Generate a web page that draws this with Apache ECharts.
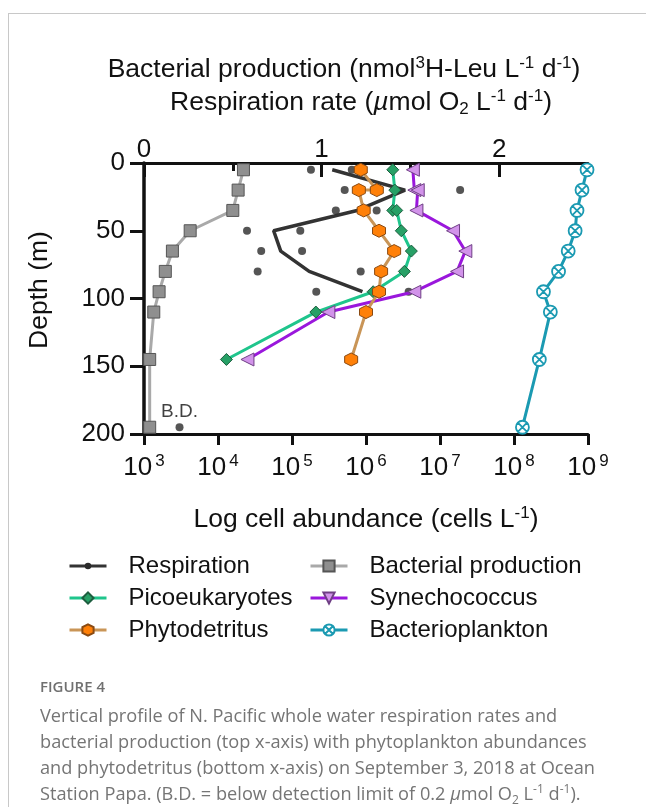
<!DOCTYPE html>
<html>
<head>
<meta charset="utf-8">
<script src="https://cdn.jsdelivr.net/npm/echarts@6/dist/echarts.min.js"></script>
<style>
  html, body { margin: 0; padding: 0; background: #fff; }
  #chart { width: 646px; height: 807px; }
</style>
</head>
<body>
<div id="chart"></div>
<script>
// depth (m) of each sample
const depths = [5, 20, 35, 50, 65, 80, 95, 110, 145, 195];

// top x-axis
const bacterialProduction = [0.56, 0.53, 0.50, 0.26, 0.16, 0.12, 0.085, 0.055, 0.032, 0.032];

const respDepths = [5, 20, 35, 50, 65, 80, 95];
const respMean = [1.06, 1.47, 1.20, 0.73, 0.77, 0.93, 1.23];
const respRepA = [0.94, 1.13, 1.08, 0.58, 0.66, 0.64, 0.97];
const respRepB = [1.17, 1.78, 1.31, 0.88, 0.89, 1.22, 1.49];
const respBelowDetection = [0.20, 195];

// bottom x-axis (cells L-1)
const picoDepths = [5, 20, 35, 35, 50, 65, 80, 95, 110, 145];
const picoeukaryotes = [2.3e6, 2.45e6, 2.3e6, 2.6e6, 3.0e6, 4.1e6, 3.3e6, 1.25e6, 2.1e5, 1.3e4];

const synDepths = [5, 20, 20, 35, 50, 65, 80, 95, 110, 145];
const synechococcus = [4.3e6, 4.5e6, 5.0e6, 4.8e6, 1.5e7, 2.2e7, 1.7e7, 4.5e6, 3.1e5, 2.5e4];

const phytoDepths = [5, 20, 20, 35, 50, 65, 80, 95, 110, 145];
const phytodetritus = [8.5e5, 1.4e6, 8.0e5, 9.3e5, 1.5e6, 2.4e6, 1.6e6, 1.5e6, 1.0e6, 6.3e5];

const bacterioplankton = [9.7e8, 8.3e8, 7.1e8, 6.7e8, 5.4e8, 4.0e8, 2.5e8, 3.1e8, 2.2e8, 1.3e8];

const topTickLabels = [0, 1, 2];
const topMinorTicks = [0.5, 1.5];

const FONT = '"Liberation Sans", Arial, sans-serif';
const CAPTION_FONT = '"Open Sans", sans-serif';
const INK = '#111';
const CAPTION_INK = '#757575';
const TITLE_SIZE = 26.5;
const CAPTION_SIZE = 18.2;

const HEXAGON = 'path://M5,0L9.33,2.5L9.33,7.5L5,10L0.67,7.5L0.67,2.5Z';
const CROSSED_CIRCLE = 'path://M10,1A9,9,0,1,1,10,19A9,9,0,1,1,10,1ZM3.6,3.6L16.4,16.4M16.4,3.6L3.6,16.4';
const SMALL_DOT = 'path://M0,0M12,12M6,2.5A3.5,3.5,0,1,1,6,9.5A3.5,3.5,0,1,1,6,2.5Z';

const pairs = (xs, ys) => xs.map((x, i) => [x, ys[i]]);

const richFor = (size, fill, family) => {
  const small = Math.round(size * 0.65);
  return {
    i: { fontSize: size, fontFamily: family, fill: fill, fontStyle: 'italic', lineHeight: size + 4 },
    sup: { fontSize: small, fontFamily: family, fill: fill, verticalAlign: 'top', lineHeight: small },
    sub: { fontSize: small, fontFamily: family, fill: fill, verticalAlign: 'bottom', lineHeight: small },
  };
};

const titleText = (x, y, text, extra) => ({
  type: 'text',
  x: x,
  y: y,
  ...extra,
  style: {
    text: text,
    rich: richFor(TITLE_SIZE, INK, FONT),
    fontSize: TITLE_SIZE,
    fontFamily: FONT,
    fill: INK,
    lineHeight: TITLE_SIZE + 4,
    align: 'center',
    verticalAlign: 'middle',
  },
});

const captionLine = (y, text) => ({
  type: 'text',
  x: 40,
  y: y,
  style: {
    text: text,
    rich: richFor(CAPTION_SIZE, CAPTION_INK, CAPTION_FONT),
    fontSize: CAPTION_SIZE,
    fontFamily: CAPTION_FONT,
    fill: CAPTION_INK,
    lineHeight: CAPTION_SIZE + 4,
    verticalAlign: 'middle',
  },
});

const chart = echarts.init(document.getElementById('chart'), null, { renderer: 'canvas' });

const legendBase = {
  orient: 'vertical',
  top: 549,
  itemWidth: 37,
  itemHeight: 14,
  itemGap: 8,
  selectedMode: false,
  lineStyle: { width: 3 },
  textStyle: { fontSize: 24, fontFamily: FONT, color: INK, lineHeight: 24, padding: [0, 0, 0, 17] },
};

const option = {
  animation: false,
  backgroundColor: '#fff',
  grid: { left: 144, top: 163, width: 444, height: 271 },
  legend: [
    {
      ...legendBase,
      left: 63,
      data: [{ name: 'Respiration' }, { name: 'Picoeukaryotes' }, { name: 'Phytodetritus' }],
    },
    {
      ...legendBase,
      left: 304,
      data: [
        { name: 'Bacterial production' },
        { name: 'Synechococcus', symbolRotate: 180 },
        { name: 'Bacterioplankton' },
      ],
    },
  ],
  xAxis: [
    {
      type: 'log',
      logBase: 10,
      min: 1e3,
      max: 1e9,
      position: 'bottom',
      axisLine: { onZero: false, lineStyle: { color: INK, width: 3 } },
      axisTick: { length: 11, lineStyle: { color: INK, width: 3 } },
      splitLine: { show: false },
      axisLabel: {
        margin: 19,
        formatter: (v) => '{b|10}{e|' + Math.round(Math.log10(v)) + '}',
        rich: {
          b: { fontSize: 26, fontFamily: FONT, color: INK, lineHeight: 30 },
          e: { fontSize: 17, fontFamily: FONT, color: INK, verticalAlign: 'top', lineHeight: 17, padding: [0, 0, 0, 3] },
        },
      },
    },
    {
      type: 'value',
      min: 0,
      max: 2.5,
      interval: 0.5,
      position: 'top',
      axisLine: { onZero: false, lineStyle: { color: INK, width: 3 } },
      axisTick: { inside: true, length: 14, customValues: topTickLabels, lineStyle: { color: INK, width: 3 } },
      splitLine: { show: false },
      axisLabel: {
        margin: 0,
        customValues: topTickLabels,
        formatter: (v) => (Number.isInteger(v) ? String(v) : ''),
        fontSize: 26,
        fontFamily: FONT,
        color: INK,
      },
    },
    {
      type: 'value',
      min: 0,
      max: 2.5,
      interval: 0.5,
      position: 'top',
      axisLine: { show: false, onZero: false },
      axisTick: { inside: true, length: 8, customValues: topMinorTicks, lineStyle: { color: INK, width: 3 } },
      axisLabel: { show: false },
      splitLine: { show: false },
    },
  ],
  yAxis: {
    type: 'value',
    inverse: true,
    min: 0,
    max: 200,
    interval: 50,
    axisLine: { onZero: false, lineStyle: { color: INK, width: 3.5 } },
    axisTick: { length: 14, lineStyle: { color: INK, width: 3 } },
    splitLine: { show: false },
    axisLabel: { margin: 19, fontSize: 26, fontFamily: FONT, color: INK },
  },
  series: [
    {
      name: 'Bacterial production',
      type: 'line',
      xAxisIndex: 1,
      data: pairs(bacterialProduction, depths),
      symbol: 'rect',
      symbolSize: 12,
      itemStyle: { color: '#8f8f8f', borderColor: '#555', borderWidth: 1 },
      lineStyle: { color: '#a9a9a9', width: 3 },
      z: 2,
    },
    {
      name: 'Respiration',
      type: 'line',
      xAxisIndex: 1,
      data: pairs(respMean, respDepths),
      symbol: SMALL_DOT,
      showSymbol: false,
      itemStyle: { color: '#2b2b2b' },
      lineStyle: { color: '#333', width: 3.5 },
      z: 2,
    },
    {
      name: 'Respiration',
      type: 'scatter',
      xAxisIndex: 1,
      data: pairs(respRepA, respDepths)
        .concat(pairs(respRepB, respDepths))
        .concat([
          {
            value: respBelowDetection,
            label: {
              show: true,
              position: 'top',
              distance: 2,
              formatter: 'B.D.',
              fontSize: 19,
              fontFamily: FONT,
              color: INK,
            },
          },
        ]),
      symbol: 'circle',
      symbolSize: 8,
      itemStyle: { color: '#2b2b2b' },
      z: 2,
    },
    {
      name: 'Picoeukaryotes',
      type: 'line',
      xAxisIndex: 0,
      data: pairs(picoeukaryotes, picoDepths),
      symbol: 'diamond',
      symbolSize: 12,
      itemStyle: { color: '#27a066', borderColor: '#1d5e3f', borderWidth: 1 },
      lineStyle: { color: '#1fc58c', width: 3 },
      z: 3,
    },
    {
      name: 'Synechococcus',
      type: 'line',
      xAxisIndex: 0,
      data: pairs(synechococcus, synDepths),
      symbol: 'triangle',
      symbolRotate: 90,
      symbolSize: 13,
      itemStyle: { color: '#d293ea', borderColor: '#6f3f85', borderWidth: 1 },
      lineStyle: { color: '#9a17dc', width: 3 },
      z: 3,
    },
    {
      name: 'Phytodetritus',
      type: 'line',
      xAxisIndex: 0,
      data: pairs(phytodetritus, phytoDepths),
      symbol: HEXAGON,
      symbolSize: 13,
      itemStyle: { color: '#ff8008', borderColor: '#8a4a12', borderWidth: 1 },
      lineStyle: { color: '#c99557', width: 3 },
      z: 4,
    },
    {
      name: 'Bacterioplankton',
      type: 'line',
      xAxisIndex: 0,
      data: pairs(bacterioplankton, depths),
      symbol: CROSSED_CIRCLE,
      symbolSize: 13,
      itemStyle: { color: '#fff', borderColor: '#1b9ab2', borderWidth: 1.8 },
      lineStyle: { color: '#1b9ab2', width: 3 },
      z: 4,
    },
  ],
  graphic: [
    { type: 'line', shape: { x1: 8, y1: 13.5, x2: 646, y2: 13.5 }, style: { stroke: '#c8c8c8', lineWidth: 1 } },
    { type: 'line', shape: { x1: 8.5, y1: 13, x2: 8.5, y2: 807 }, style: { stroke: '#c8c8c8', lineWidth: 1 } },
    titleText(344, 70, 'Bacterial production (nmol{sup|3}H-Leu L{sup|-1} d{sup|-1})'),
    titleText(361, 103, 'Respiration rate ({i|µ}mol O{sub|2} L{sup|-1} d{sup|-1})'),
    titleText(366, 520, 'Log cell abundance (cells L{sup|-1})'),
    titleText(40, 290, 'Depth (m)', { rotation: Math.PI / 2 }),
    {
      type: 'text',
      x: 40,
      y: 688,
      style: { text: 'FIGURE 4', fontSize: 15, fontWeight: 600, fontFamily: CAPTION_FONT, fill: '#707070', verticalAlign: 'middle' },
    },
    captionLine(717, 'Vertical profile of N. Pacific whole water respiration rates and'),
    captionLine(743, 'bacterial production (top x-axis) with phytoplankton abundances'),
    captionLine(769, 'and phytodetritus (bottom x-axis) on September 3, 2018 at Ocean'),
    captionLine(795, 'Station Papa. (B.D. = below detection limit of 0.2 {i|µ}mol O{sub|2} L{sup|-1} d{sup|-1}).'),
  ],
};

chart.setOption(option);
</script>
</body>
</html>
